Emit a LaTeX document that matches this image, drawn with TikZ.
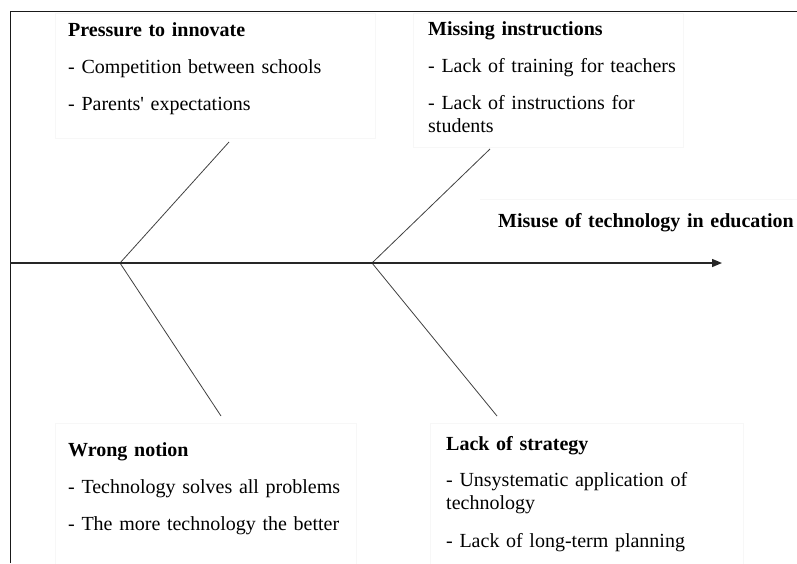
\documentclass[tikz,border=0pt]{standalone}
\usepackage{fontspec}
\setmainfont{Liberation Serif}
\usetikzlibrary{arrows.meta}
\begin{document}
\begin{tikzpicture}[x=1pt,y=-1pt]
      \tikzstyle{cause} = [anchor=base west, inner sep=0pt, text width=330pt, align=left,
                           font=\fontsize{20}{23}\selectfont]
      \tikzstyle{effect} = [cause, font=\fontsize{20}{23}\selectfont\bfseries]
      \tikzstyle{bone} = [draw=black!75, line width=0.8pt]
      \tikzstyle{spine} = [draw=black!85, line width=1.4pt, -{Triangle[length=10pt,width=8pt]}]
      \tikzstyle{frame} = [draw=black!90, line width=1pt]
      \tikzstyle{faint} = [draw=black!3, line width=0.6pt]
        \useasboundingbox (0,0) rectangle (797,563);
        \clip (0,0) rectangle (797,563);
        \draw[faint] (55,13) rectangle (375,138);
        \draw[faint] (413,13) rectangle (683,147);
        \draw[faint] (480,199) -- (800,199);
        \draw[faint] (55,423) rectangle (356,570);
        \draw[faint] (430,423) rectangle (743,570);
        \draw[frame] (10,563) -- (10,11) -- (797,11);
          \node[cause] (pressure) at (68,36)
            {\textbf{Pressure to innovate}\\[14pt]
             - Competition between schools\\[14pt]
             - Parents\textquotesingle\ expectations};
          \node[cause] (missing) at (428,35)
            {\textbf{Missing instructions}\\[14pt]
             - Lack of training for teachers\\[14pt]
             - Lack of instructions for\\
             students};
          \node[effect] (misuse) at (498,227) {Misuse of technology in education};
          \node[cause] (notion) at (68,456)
            {\textbf{Wrong notion}\\[14pt]
             - Technology solves all problems\\[14pt]
             - The more technology the better};
          \node[cause] (strategy) at (446,450)
            {\textbf{Lack of strategy}\\[13pt]
             - Unsystematic application of\\
             technology\\[15pt]
             - Lack of long-term planning};
        \coordinate (tail) at (10,263);
        \coordinate (head) at (722,263);
        \coordinate (joint1) at (120,263);
        \coordinate (joint2) at (372,263);
        \coordinate (pressure end) at (229,142);
        \coordinate (notion end) at (221,416);
        \coordinate (missing end) at (490,149);
        \coordinate (strategy end) at (497,416);
        \draw[bone] (joint1) -- (pressure end);
        \draw[bone] (joint1) -- (notion end);
        \draw[bone] (joint2) -- (missing end);
        \draw[bone] (joint2) -- (strategy end);
        \draw[spine] (tail) -- (head);
\end{tikzpicture}
\end{document}
